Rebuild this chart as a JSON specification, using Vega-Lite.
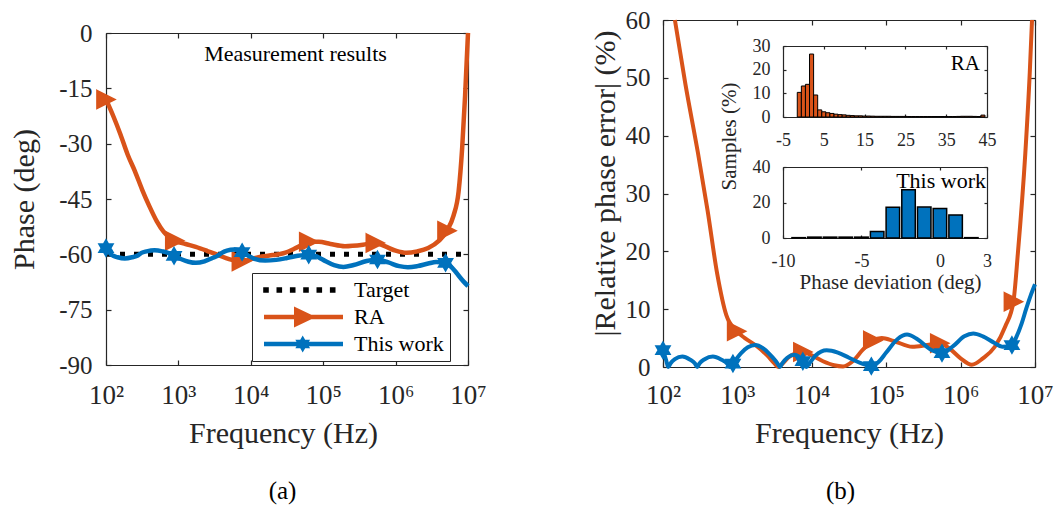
{
"$schema": "https://vega.github.io/schema/vega-lite/v6.json",
"width": 1058, "height": 508,
"autosize": {"type": "none"},
"padding": 0,
"background": "white",
"datasets": {
"phase": [
{"s":"Target","f":100,"v":-60,"m":0},{"s":"Target","f":10000000,"v":-60,"m":0},
{"s":"RA","f":100,"v":-18,"m":1},{"s":"RA","f":125.9,"v":-22.5,"m":0},{"s":"RA","f":158.5,"v":-27.5,"m":0},{"s":"RA","f":199.5,"v":-33,"m":0},{"s":"RA","f":251.2,"v":-37.5,"m":0},{"s":"RA","f":316.2,"v":-42.5,"m":0},{"s":"RA","f":398.1,"v":-47,"m":0},{"s":"RA","f":501.2,"v":-51,"m":0},{"s":"RA","f":631,"v":-54,"m":0},{"s":"RA","f":891.3,"v":-56.3,"m":1},{"s":"RA","f":1259,"v":-57.2,"m":0},{"s":"RA","f":1738,"v":-58,"m":0},{"s":"RA","f":2512,"v":-59.1,"m":0},{"s":"RA","f":3548,"v":-60.2,"m":0},{"s":"RA","f":5012,"v":-61.3,"m":0},{"s":"RA","f":7413,"v":-61.9,"m":1},{"s":"RA","f":10000,"v":-61.3,"m":0},{"s":"RA","f":14130,"v":-60.6,"m":0},{"s":"RA","f":19950,"v":-60.2,"m":0},{"s":"RA","f":28180,"v":-59.7,"m":0},{"s":"RA","f":39810,"v":-58.5,"m":0},{"s":"RA","f":52480,"v":-57.3,"m":0},{"s":"RA","f":63100,"v":-56.6,"m":1},{"s":"RA","f":87100,"v":-56.6,"m":0},{"s":"RA","f":125900,"v":-57.2,"m":0},{"s":"RA","f":199500,"v":-57.8,"m":0},{"s":"RA","f":354800,"v":-57.4,"m":0},{"s":"RA","f":524800,"v":-56.9,"m":1},{"s":"RA","f":707900,"v":-57.8,"m":0},{"s":"RA","f":1000000,"v":-59.0,"m":0},{"s":"RA","f":1413000,"v":-59.6,"m":0},{"s":"RA","f":1995000,"v":-59.2,"m":0},{"s":"RA","f":2818000,"v":-58.3,"m":0},{"s":"RA","f":3981000,"v":-56.3,"m":0},{"s":"RA","f":5129000,"v":-53.6,"m":1},{"s":"RA","f":6310000,"v":-49.5,"m":0},{"s":"RA","f":7413000,"v":-43,"m":0},{"s":"RA","f":8318000,"v":-31,"m":0},{"s":"RA","f":9120000,"v":-17,"m":0},{"s":"RA","f":10000000,"v":0,"m":0},
{"s":"TW","f":100,"v":-58.3,"m":1},{"s":"TW","f":109.6,"v":-59.2,"m":0},{"s":"TW","f":117.5,"v":-60,"m":0},{"s":"TW","f":125.9,"v":-60.4,"m":0},{"s":"TW","f":144.5,"v":-60.8,"m":0},{"s":"TW","f":182,"v":-61.1,"m":0},{"s":"TW","f":229.1,"v":-60.8,"m":0},{"s":"TW","f":269.2,"v":-60.4,"m":0},{"s":"TW","f":288.4,"v":-60,"m":0},{"s":"TW","f":309,"v":-59.6,"m":0},{"s":"TW","f":363.1,"v":-59.2,"m":0},{"s":"TW","f":467.7,"v":-58.9,"m":0},{"s":"TW","f":602.6,"v":-59.2,"m":0},{"s":"TW","f":741.3,"v":-59.7,"m":0},{"s":"TW","f":794.3,"v":-60,"m":0},{"s":"TW","f":871,"v":-60.4,"m":1},{"s":"TW","f":1122,"v":-61.4,"m":0},{"s":"TW","f":1380,"v":-62.0,"m":0},{"s":"TW","f":1738,"v":-62.3,"m":0},{"s":"TW","f":2291,"v":-61.9,"m":0},{"s":"TW","f":2951,"v":-61.0,"m":0},{"s":"TW","f":3467,"v":-60.4,"m":0},{"s":"TW","f":3715,"v":-60,"m":0},{"s":"TW","f":3981,"v":-59.6,"m":0},{"s":"TW","f":4677,"v":-59.0,"m":0},{"s":"TW","f":5888,"v":-58.7,"m":0},{"s":"TW","f":7586,"v":-59.4,"m":1},{"s":"TW","f":8511,"v":-60,"m":0},{"s":"TW","f":9120,"v":-60.3,"m":0},{"s":"TW","f":11220,"v":-61.2,"m":0},{"s":"TW","f":15850,"v":-61.7,"m":0},{"s":"TW","f":22390,"v":-61.5,"m":0},{"s":"TW","f":31620,"v":-61.0,"m":0},{"s":"TW","f":44670,"v":-60.4,"m":0},{"s":"TW","f":63100,"v":-60.1,"m":1},{"s":"TW","f":79430,"v":-60.5,"m":0},{"s":"TW","f":100000,"v":-61.5,"m":0},{"s":"TW","f":141300,"v":-62.9,"m":0},{"s":"TW","f":190500,"v":-63.4,"m":0},{"s":"TW","f":263000,"v":-62.9,"m":0},{"s":"TW","f":398100,"v":-61.8,"m":0},{"s":"TW","f":562300,"v":-61.4,"m":1},{"s":"TW","f":794300,"v":-62.2,"m":0},{"s":"TW","f":1122000,"v":-63.2,"m":0},{"s":"TW","f":1479000,"v":-63.5,"m":0},{"s":"TW","f":1995000,"v":-63.2,"m":0},{"s":"TW","f":2818000,"v":-62.5,"m":0},{"s":"TW","f":3631000,"v":-62.1,"m":0},{"s":"TW","f":4898000,"v":-62.3,"m":1},{"s":"TW","f":5623000,"v":-63.1,"m":0},{"s":"TW","f":6607000,"v":-64.5,"m":0},{"s":"TW","f":7586000,"v":-66,"m":0},{"s":"TW","f":8710000,"v":-67.4,"m":0},{"s":"TW","f":10000000,"v":-68.6,"m":0}
],
"err": [
{"s":"RA","f":144.5,"v":60,"m":0},{"s":"RA","f":199.5,"v":49,"m":0},{"s":"RA","f":295.1,"v":37,"m":0},{"s":"RA","f":398.1,"v":27,"m":0},{"s":"RA","f":537,"v":16,"m":0},{"s":"RA","f":707.9,"v":9,"m":0},{"s":"RA","f":977.2,"v":6.2,"m":1},{"s":"RA","f":1259,"v":5.0,"m":0},{"s":"RA","f":1738,"v":3.8,"m":0},{"s":"RA","f":2512,"v":2.0,"m":0},{"s":"RA","f":3162,"v":0.6,"m":0},{"s":"RA","f":3548,"v":0,"m":0},{"s":"RA","f":3981,"v":0.5,"m":0},{"s":"RA","f":5012,"v":1.8,"m":0},{"s":"RA","f":7586,"v":2.6,"m":1},{"s":"RA","f":10000,"v":2.0,"m":0},{"s":"RA","f":14130,"v":1.0,"m":0},{"s":"RA","f":19950,"v":0.3,"m":0},{"s":"RA","f":26300,"v":0.1,"m":0},{"s":"RA","f":35480,"v":1.0,"m":0},{"s":"RA","f":47860,"v":2.9,"m":0},{"s":"RA","f":66070,"v":4.6,"m":1},{"s":"RA","f":87100,"v":5.0,"m":0},{"s":"RA","f":125900,"v":4.5,"m":0},{"s":"RA","f":223900,"v":3.5,"m":0},{"s":"RA","f":354800,"v":3.8,"m":0},{"s":"RA","f":524800,"v":4.1,"m":1},{"s":"RA","f":707900,"v":3.2,"m":0},{"s":"RA","f":1000000,"v":1.5,"m":0},{"s":"RA","f":1413000,"v":0.4,"m":0},{"s":"RA","f":1995000,"v":1.5,"m":0},{"s":"RA","f":2884000,"v":3.5,"m":0},{"s":"RA","f":3981000,"v":7.0,"m":0},{"s":"RA","f":5129000,"v":11.3,"m":1},{"s":"RA","f":5888000,"v":19.7,"m":0},{"s":"RA","f":7413000,"v":37,"m":0},{"s":"RA","f":8511000,"v":51,"m":0},{"s":"RA","f":9120000,"v":60,"m":0},
{"s":"TW","f":100,"v":2.9,"m":1},{"s":"TW","f":109.6,"v":1.3,"m":0},{"s":"TW","f":117.5,"v":0,"m":0},{"s":"TW","f":125.9,"v":0.6,"m":0},{"s":"TW","f":144.5,"v":1.35,"m":0},{"s":"TW","f":182,"v":1.8,"m":0},{"s":"TW","f":229.1,"v":1.3,"m":0},{"s":"TW","f":269.2,"v":0.6,"m":0},{"s":"TW","f":288.4,"v":0,"m":0},{"s":"TW","f":309,"v":0.6,"m":0},{"s":"TW","f":363.1,"v":1.35,"m":0},{"s":"TW","f":467.7,"v":1.8,"m":0},{"s":"TW","f":602.6,"v":1.3,"m":0},{"s":"TW","f":741.3,"v":0.5,"m":0},{"s":"TW","f":794.3,"v":0,"m":0},{"s":"TW","f":871,"v":0.6,"m":1},{"s":"TW","f":1122,"v":2.4,"m":0},{"s":"TW","f":1380,"v":3.4,"m":0},{"s":"TW","f":1738,"v":3.8,"m":0},{"s":"TW","f":2291,"v":3.1,"m":0},{"s":"TW","f":2951,"v":1.7,"m":0},{"s":"TW","f":3467,"v":0.6,"m":0},{"s":"TW","f":3715,"v":0,"m":0},{"s":"TW","f":3981,"v":0.6,"m":0},{"s":"TW","f":4677,"v":1.6,"m":0},{"s":"TW","f":5888,"v":2.1,"m":0},{"s":"TW","f":7586,"v":1.0,"m":1},{"s":"TW","f":8511,"v":0,"m":0},{"s":"TW","f":9120,"v":0.5,"m":0},{"s":"TW","f":11220,"v":2.0,"m":0},{"s":"TW","f":15850,"v":2.9,"m":0},{"s":"TW","f":22390,"v":2.5,"m":0},{"s":"TW","f":31620,"v":1.6,"m":0},{"s":"TW","f":44670,"v":0.7,"m":0},{"s":"TW","f":63100,"v":0.15,"m":1},{"s":"TW","f":79430,"v":0.9,"m":0},{"s":"TW","f":100000,"v":2.5,"m":0},{"s":"TW","f":141300,"v":4.8,"m":0},{"s":"TW","f":190500,"v":5.6,"m":0},{"s":"TW","f":263000,"v":4.8,"m":0},{"s":"TW","f":398100,"v":3.0,"m":0},{"s":"TW","f":562300,"v":2.4,"m":1},{"s":"TW","f":794300,"v":3.6,"m":0},{"s":"TW","f":1122000,"v":5.3,"m":0},{"s":"TW","f":1479000,"v":5.8,"m":0},{"s":"TW","f":1995000,"v":5.3,"m":0},{"s":"TW","f":2818000,"v":4.2,"m":0},{"s":"TW","f":3631000,"v":3.5,"m":0},{"s":"TW","f":4898000,"v":3.8,"m":1},{"s":"TW","f":5623000,"v":5.2,"m":0},{"s":"TW","f":6607000,"v":7.5,"m":0},{"s":"TW","f":7586000,"v":10,"m":0},{"s":"TW","f":8710000,"v":12.3,"m":0},{"s":"TW","f":10000000,"v":14.3,"m":0}
],
"histRA": [
{"x0":-1.5,"x1":-0.5,"p":10.4},{"x0":-0.5,"x1":0.5,"p":13.1},{"x0":0.5,"x1":1.5,"p":13.8},{"x0":1.5,"x1":2.5,"p":26.6},{"x0":2.5,"x1":3.5,"p":9.3},{"x0":3.5,"x1":4.5,"p":3.0},{"x0":4.5,"x1":5.5,"p":2.2},{"x0":5.5,"x1":6.5,"p":1.8},{"x0":6.5,"x1":7.5,"p":1.5},{"x0":7.5,"x1":8.5,"p":1.2},{"x0":8.5,"x1":9.5,"p":1.0},{"x0":9.5,"x1":10.5,"p":0.9},{"x0":10.5,"x1":11.5,"p":0.7},{"x0":11.5,"x1":12.5,"p":0.6},{"x0":12.5,"x1":13.5,"p":0.5},{"x0":13.5,"x1":14.5,"p":0.5},{"x0":14.5,"x1":15.5,"p":0.4},{"x0":15.5,"x1":16.5,"p":0.4},{"x0":16.5,"x1":17.5,"p":0.35},{"x0":17.5,"x1":18.5,"p":0.3},{"x0":18.5,"x1":19.5,"p":0.3},{"x0":19.5,"x1":20.5,"p":0.3},{"x0":20.5,"x1":21.5,"p":0.3},{"x0":21.5,"x1":22.5,"p":0.25},{"x0":22.5,"x1":23.5,"p":0.25},{"x0":23.5,"x1":24.5,"p":0.25},{"x0":24.5,"x1":25.5,"p":0.25},{"x0":25.5,"x1":26.5,"p":0.2},{"x0":26.5,"x1":27.5,"p":0.2},{"x0":27.5,"x1":28.5,"p":0.2},{"x0":28.5,"x1":29.5,"p":0.2},{"x0":29.5,"x1":30.5,"p":0.2},{"x0":30.5,"x1":31.5,"p":0.2},{"x0":31.5,"x1":32.5,"p":0.2},{"x0":32.5,"x1":33.5,"p":0.2},{"x0":33.5,"x1":34.5,"p":0.2},{"x0":34.5,"x1":35.5,"p":0.2},{"x0":35.5,"x1":36.5,"p":0.2},{"x0":36.5,"x1":37.5,"p":0.2},{"x0":37.5,"x1":38.5,"p":0.25},{"x0":38.5,"x1":39.5,"p":0.3},{"x0":39.5,"x1":40.5,"p":0.3},{"x0":40.5,"x1":41.5,"p":0.3},{"x0":41.5,"x1":42.5,"p":0.25},{"x0":42.5,"x1":43.5,"p":0.2},{"x0":43.5,"x1":44.5,"p":0.8}
],
"histTW": [
{"x0":-9.43,"x1":-8.57,"p":0.2},{"x0":-8.43,"x1":-7.57,"p":0.5},{"x0":-7.43,"x1":-6.57,"p":0.5},{"x0":-6.43,"x1":-5.57,"p":0.5},{"x0":-5.43,"x1":-4.57,"p":0.5},{"x0":-4.43,"x1":-3.57,"p":3.7},{"x0":-3.43,"x1":-2.57,"p":17.3},{"x0":-2.43,"x1":-1.57,"p":27.2},{"x0":-1.43,"x1":-0.57,"p":17.4},{"x0":-0.43,"x1":0.43,"p":16.6},{"x0":0.57,"x1":1.43,"p":13.0},{"x0":1.57,"x1":2.43,"p":0.2}
]
},
"config": {
"view": {"stroke": null},
"font": "Liberation Serif",
"style": {"guide-label": {"font": "Liberation Serif"}, "guide-title": {"font": "Liberation Serif"}},
"axis": {"grid": false, "labelFont": "Liberation Serif", "titleFont": "Liberation Serif", "labelColor": "#262626", "titleColor": "#262626", "tickColor": "#262626", "domainColor": "#262626", "domainWidth": 1.2, "tickWidth": 1.2, "titleFontWeight": "normal", "labelFlush": false, "labelOverlap": false, "titlePadding": 0},
"legend": {"labelFont": "Liberation Serif", "titleFont": "Liberation Serif"}
},
"resolve": {"scale": {"x": "independent", "y": "independent"}, "axis": {"x": "independent", "y": "independent"}},
"layer": [
{
"data": {"name": "phase"},
"layer": [
{"transform": [{"filter": "datum.s == 'Target'"}],
 "mark": {"type": "line", "color": "#000000", "strokeWidth": 5, "strokeDash": [5, 9], "strokeCap": "butt"},
 "encoding": {
  "x": {"field": "f", "type": "quantitative", "scale": {"type": "log", "domain": [100, 10000000], "range": [106, 468], "nice": false},
        "axis": {"orient": "bottom", "offset": -143, "values": [100, 1000, 10000, 100000, 1000000, 10000000], "labelExpr": "'10' + ['\u2070','\u00b9','\u00b2','\u00b3','\u2074','\u2075','\u2076','\u2077'][round(log(datum.value)/LN10)]", "labelFont": "Liberation Serif", "labelFontSize": 27, "labelBaseline": "alphabetic", "labelPadding": 43, "tickSize": -5, "title": "Frequency (Hz)", "titleFont": "Liberation Serif", "titleFontSize": 30, "titleX": 283, "titleY": 77, "titleBaseline": "alphabetic"}},
  "y": {"field": "v", "type": "quantitative", "scale": {"domain": [-90, 0], "range": [365, 33], "nice": false},
        "axis": {"orient": "left", "offset": -106, "values": [-90, -75, -60, -45, -30, -15, 0], "labelExpr": "'' + datum.value", "labelFont": "Liberation Serif", "labelFontSize": 25, "labelPadding": 19, "tickSize": -5, "title": "Phase (deg)", "titleFont": "Liberation Serif", "titleFontSize": 30, "titleAngle": 270, "titleX": -73, "titleY": 199, "titleBaseline": "alphabetic"}}
 }},
{"transform": [{"filter": "datum.s == 'RA'"}],
 "mark": {"type": "line", "color": "#D95319", "strokeWidth": 4.5, "interpolate": "monotone", "strokeJoin": "round"},
 "encoding": {
  "x": {"field": "f", "type": "quantitative", "scale": {"type": "log", "domain": [100, 10000000], "range": [106, 468], "nice": false},
        "axis": {"orient": "top", "offset": -33, "values": [100, 1000, 10000, 100000, 1000000, 10000000], "labels": false, "tickSize": -5, "title": null}},
  "y": {"field": "v", "type": "quantitative", "scale": {"domain": [-90, 0], "range": [365, 33], "nice": false},
        "axis": {"orient": "right", "offset": -590, "values": [-90, -75, -60, -45, -30, -15, 0], "labels": false, "tickSize": -5, "title": null}}
 }},
{"transform": [{"filter": "datum.s == 'RA' && datum.m == 1"}],
 "mark": {"type": "point", "shape": "M-1,-1L1,0L-1,1Z", "filled": true, "fill": "#D95319", "stroke": "#D95319", "strokeWidth": 1.5, "size": 330, "opacity": 1},
 "encoding": {
  "x": {"field": "f", "type": "quantitative", "scale": {"type": "log", "domain": [100, 10000000], "range": [106, 468], "nice": false}, "axis": null},
  "y": {"field": "v", "type": "quantitative", "scale": {"domain": [-90, 0], "range": [365, 33], "nice": false}, "axis": null}
 }},
{"transform": [{"filter": "datum.s == 'TW'"}],
 "mark": {"type": "line", "color": "#0072BD", "strokeWidth": 4.5, "interpolate": "monotone", "strokeJoin": "round"},
 "encoding": {
  "x": {"field": "f", "type": "quantitative", "scale": {"type": "log", "domain": [100, 10000000], "range": [106, 468], "nice": false}, "axis": null},
  "y": {"field": "v", "type": "quantitative", "scale": {"domain": [-90, 0], "range": [365, 33], "nice": false}, "axis": null}
 }},
{"transform": [{"filter": "datum.s == 'TW' && datum.m == 1"}],
 "mark": {"type": "point", "shape": "M0,-1L0.2887,-0.5L0.866,-0.5L0.577,0L0.866,0.5L0.2887,0.5L0,1L-0.2887,0.5L-0.866,0.5L-0.577,0L-0.866,-0.5L-0.2887,-0.5Z", "filled": true, "fill": "#0072BD", "stroke": "#0072BD", "strokeWidth": 1.5, "size": 270, "opacity": 1},
 "encoding": {
  "x": {"field": "f", "type": "quantitative", "scale": {"type": "log", "domain": [100, 10000000], "range": [106, 468], "nice": false}, "axis": null},
  "y": {"field": "v", "type": "quantitative", "scale": {"domain": [-90, 0], "range": [365, 33], "nice": false}, "axis": null}
 }},
{"data": {"values": [{}]},
 "mark": {"type": "text", "text": "Measurement results", "font": "Liberation Serif", "fontSize": 22, "align": "center", "baseline": "alphabetic", "color": "#000000"},
 "encoding": {
  "x": {"datum": 41400, "type": "quantitative", "scale": {"type": "log", "domain": [100, 10000000], "range": [106, 468], "nice": false}, "axis": null},
  "y": {"datum": -7.6, "type": "quantitative", "scale": {"domain": [-90, 0], "range": [365, 33], "nice": false}, "axis": null}
 }},
{"transform": [{"filter": "false"}],
 "mark": {"type": "point", "filled": true, "opacity": 1},
 "encoding": {
  "color": {"field": "s", "type": "nominal", "scale": {"domain": ["Target", "RA", "This work"], "range": ["#000000", "#D95319", "#0072BD"]},
            "legend": {"orient": "none", "legendX": 252, "legendY": 273, "title": null, "symbolSize": 400, "symbolStrokeWidth": 0, "symbolOpacity": 1, "labelOffset": 74, "labelFont": "Liberation Serif", "labelFontSize": 22, "labelColor": "#000000", "padding": 6, "rowPadding": 5, "strokeColor": "#262626", "fillColor": "#ffffff"}},
  "shape": {"field": "s", "type": "nominal", "scale": {"domain": ["Target", "RA", "This work"], "range": [
      "M-0.58,-0.28L-0.02,-0.28L-0.02,0.28L-0.58,0.28Z M0.75,-0.28L1.31,-0.28L1.31,0.28L0.75,0.28Z M2.09,-0.28L2.65,-0.28L2.65,0.28L2.09,0.28Z M3.42,-0.28L3.98,-0.28L3.98,0.28L3.42,0.28Z M4.75,-0.28L5.31,-0.28L5.31,0.28L4.75,0.28Z M6.09,-0.28L6.65,-0.28L6.65,0.28L6.09,0.28Z",
      "M-0.5,-0.22L7.4,-0.22L7.4,0.22L-0.5,0.22Z M2.5,-1.05L4.7,0L2.5,1.05Z",
      "M-0.5,-0.22L7.4,-0.22L7.4,0.22L-0.5,0.22Z M3.37,-0.85L3.615,-0.425L4.106,-0.425L3.86,0L4.106,0.425L3.615,0.425L3.37,0.85L3.125,0.425L2.634,0.425L2.88,0L2.634,-0.425L3.125,-0.425Z"]},
            "legend": {"orient": "none", "legendX": 252, "legendY": 273, "title": null, "symbolSize": 400, "symbolStrokeWidth": 0, "symbolOpacity": 1, "labelOffset": 74, "labelFont": "Liberation Serif", "labelFontSize": 22, "labelColor": "#000000", "padding": 6, "rowPadding": 5, "strokeColor": "#262626", "fillColor": "#ffffff"}}
 }}
]
},
{
"data": {"name": "err"},
"layer": [
{"transform": [{"filter": "datum.s == 'RA'"}],
 "mark": {"type": "line", "color": "#D95319", "strokeWidth": 4, "interpolate": "monotone", "strokeJoin": "round"},
 "encoding": {
  "x": {"field": "f", "type": "quantitative", "scale": {"type": "log", "domain": [100, 10000000], "range": [663, 1035], "nice": false},
        "axis": {"orient": "bottom", "offset": -141, "values": [100, 1000, 10000, 100000, 1000000, 10000000], "labelExpr": "'10' + ['\u2070','\u00b9','\u00b2','\u00b3','\u2074','\u2075','\u2076','\u2077'][round(log(datum.value)/LN10)]", "labelFont": "Liberation Serif", "labelFontSize": 27, "labelBaseline": "alphabetic", "labelPadding": 41, "tickSize": -5, "title": "Frequency (Hz)", "titleFont": "Liberation Serif", "titleFontSize": 30, "titleX": 849, "titleY": 75, "titleBaseline": "alphabetic"}},
  "y": {"field": "v", "type": "quantitative", "scale": {"domain": [0, 60], "range": [367, 20], "nice": false},
        "axis": {"orient": "left", "offset": -663, "values": [0, 10, 20, 30, 40, 50, 60], "labelFont": "Liberation Serif", "labelFontSize": 25, "labelPadding": 18, "tickSize": -5, "title": "|Relative phase error| (%)", "titleFont": "Liberation Serif", "titleFontSize": 30, "titleAngle": 270, "titleX": -49, "titleY": 183, "titleBaseline": "alphabetic"}}
 }},
{"transform": [{"filter": "datum.s == 'RA' && datum.m == 1"}],
 "mark": {"type": "point", "shape": "M-1,-1L1,0L-1,1Z", "filled": true, "fill": "#D95319", "stroke": "#D95319", "strokeWidth": 1.5, "size": 330, "opacity": 1},
 "encoding": {
  "x": {"field": "f", "type": "quantitative", "scale": {"type": "log", "domain": [100, 10000000], "range": [663, 1035], "nice": false}, "axis": null},
  "y": {"field": "v", "type": "quantitative", "scale": {"domain": [0, 60], "range": [367, 20], "nice": false}, "axis": null}
 }},
{"transform": [{"filter": "datum.s == 'TW'"}],
 "mark": {"type": "line", "color": "#0072BD", "strokeWidth": 4, "interpolate": "monotone", "strokeJoin": "round"},
 "encoding": {
  "x": {"field": "f", "type": "quantitative", "scale": {"type": "log", "domain": [100, 10000000], "range": [663, 1035], "nice": false},
        "axis": {"orient": "top", "offset": -20, "values": [100, 1000, 10000, 100000, 1000000, 10000000], "labels": false, "tickSize": -5, "title": null}},
  "y": {"field": "v", "type": "quantitative", "scale": {"domain": [0, 60], "range": [367, 20], "nice": false},
        "axis": {"orient": "right", "offset": -23, "values": [0, 10, 20, 30, 40, 50, 60], "labels": false, "tickSize": -5, "title": null}}
 }},
{"transform": [{"filter": "datum.s == 'TW' && datum.m == 1"}],
 "mark": {"type": "point", "shape": "M0,-1L0.2887,-0.5L0.866,-0.5L0.577,0L0.866,0.5L0.2887,0.5L0,1L-0.2887,0.5L-0.866,0.5L-0.577,0L-0.866,-0.5L-0.2887,-0.5Z", "filled": true, "fill": "#0072BD", "stroke": "#0072BD", "strokeWidth": 1.5, "size": 270, "opacity": 1},
 "encoding": {
  "x": {"field": "f", "type": "quantitative", "scale": {"type": "log", "domain": [100, 10000000], "range": [663, 1035], "nice": false}, "axis": null},
  "y": {"field": "v", "type": "quantitative", "scale": {"domain": [0, 60], "range": [367, 20], "nice": false}, "axis": null}
 }}
]
},
{
"layer": [
{"data": {"name": "histRA"},
 "mark": {"type": "rect", "fill": "#D95319", "stroke": "#000000", "strokeWidth": 1},
 "encoding": {
  "x": {"field": "x0", "type": "quantitative", "scale": {"domain": [-5, 45], "range": [783, 987], "nice": false, "zero": false},
        "axis": {"orient": "bottom", "offset": -391, "values": [-5, 5, 15, 25, 35, 45], "labelExpr": "'' + datum.value", "labelFont": "Liberation Serif", "labelFontSize": 18, "labelBaseline": "alphabetic", "labelPadding": 31, "tickSize": -3, "title": null}},
  "x2": {"field": "x1"},
  "y": {"field": "p", "type": "quantitative", "scale": {"domain": [0, 30], "range": [117, 46], "nice": false},
        "axis": {"orient": "left", "offset": -783, "values": [0, 10, 20, 30], "labelFont": "Liberation Serif", "labelFontSize": 18, "labelPadding": 16, "tickSize": -3, "title": null}},
  "y2": {"datum": 0}
 }},
{"data": {"values": [{}]},
 "mark": {"type": "text", "text": "RA", "font": "Liberation Serif", "fontSize": 21, "align": "right", "baseline": "alphabetic", "dx": -7, "color": "#000000"},
 "encoding": {
  "x": {"datum": 45, "type": "quantitative", "scale": {"domain": [-5, 45], "range": [783, 987], "nice": false, "zero": false},
        "axis": {"orient": "top", "offset": -46, "values": [-5, 5, 15, 25, 35, 45], "labels": false, "tickSize": -3, "title": null}},
  "y": {"datum": 20, "type": "quantitative", "scale": {"domain": [0, 30], "range": [117, 46], "nice": false},
        "axis": {"orient": "right", "offset": -71, "values": [0, 10, 20, 30], "labels": false, "tickSize": -3, "title": null}}
 }}
]
},
{
"layer": [
{"data": {"name": "histTW"},
 "mark": {"type": "rect", "fill": "#0072BD", "stroke": "#000000", "strokeWidth": 1.5},
 "encoding": {
  "x": {"field": "x0", "type": "quantitative", "scale": {"domain": [-10, 3], "range": [783, 987], "nice": false, "zero": false},
        "axis": {"orient": "bottom", "offset": -270, "values": [-10, -5, 0, 3], "labelExpr": "'' + datum.value", "labelFont": "Liberation Serif", "labelFontSize": 18, "labelBaseline": "alphabetic", "labelPadding": 31, "tickSize": -3, "title": "Phase deviation (deg)", "titleFont": "Liberation Serif", "titleFontSize": 21, "titleX": 890, "titleY": 50, "titleBaseline": "alphabetic"}},
  "x2": {"field": "x1"},
  "y": {"field": "p", "type": "quantitative", "scale": {"domain": [0, 40], "range": [238, 167], "nice": false},
        "axis": {"orient": "left", "offset": -783, "values": [0, 20, 40], "labelFont": "Liberation Serif", "labelFontSize": 18, "labelPadding": 16, "tickSize": -3, "title": "Samples (%)", "titleFont": "Liberation Serif", "titleFontSize": 21, "titleAngle": 270, "titleX": -48, "titleY": 136, "titleBaseline": "alphabetic"}},
  "y2": {"datum": 0}
 }},
{"data": {"values": [{}]},
 "mark": {"type": "text", "text": "This work", "font": "Liberation Serif", "fontSize": 22, "align": "right", "baseline": "alphabetic", "dx": -1, "color": "#000000"},
 "encoding": {
  "x": {"datum": 3, "type": "quantitative", "scale": {"domain": [-10, 3], "range": [783, 987], "nice": false, "zero": false},
        "axis": {"orient": "top", "offset": -167, "values": [-10, -5, 0, 3], "labels": false, "tickSize": -3, "title": null}},
  "y": {"datum": 28.2, "type": "quantitative", "scale": {"domain": [0, 40], "range": [238, 167], "nice": false},
        "axis": {"orient": "right", "offset": -71, "values": [0, 20, 40], "labels": false, "tickSize": -3, "title": null}}
 }}
]
},
{"data": {"values": [{}]},
 "mark": {"type": "text", "text": ""},
 "encoding": {
  "x": {"datum": 0, "type": "quantitative", "scale": {"domain": [0, 1], "range": [106, 468]},
        "axis": {"orient": "bottom", "offset": -143, "domain": false, "ticks": false, "labels": false, "title": "(a)", "titleFont": "Liberation Serif", "titleFontSize": 25, "titleColor": "#000000", "titleX": 282, "titleY": 133, "titleBaseline": "alphabetic"}}
 }},
{"data": {"values": [{}]},
 "mark": {"type": "text", "text": ""},
 "encoding": {
  "x": {"datum": 0, "type": "quantitative", "scale": {"domain": [0, 1], "range": [663, 1035]},
        "axis": {"orient": "bottom", "offset": -141, "domain": false, "ticks": false, "labels": false, "title": "(b)", "titleFont": "Liberation Serif", "titleFontSize": 25, "titleColor": "#000000", "titleX": 840, "titleY": 131, "titleBaseline": "alphabetic"}}
 }}
]
}
